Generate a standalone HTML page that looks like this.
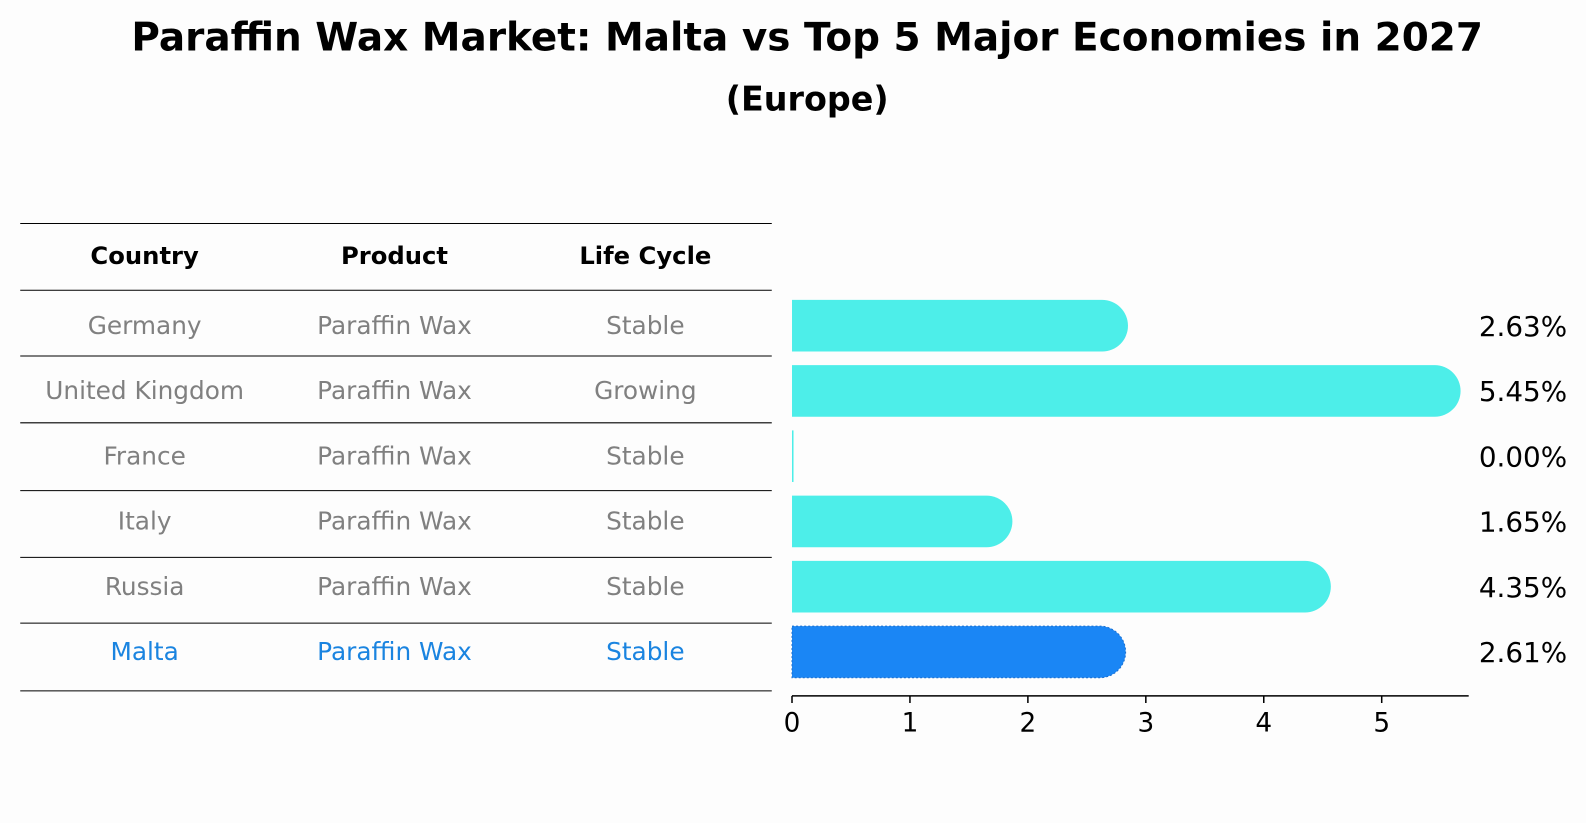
<!DOCTYPE html>
<html><head><meta charset="utf-8"><style>
body{margin:0;background:#fdfdfd;font-family:"DejaVu Sans","Liberation Sans",sans-serif;}
svg{display:block}
</style></head><body>
<svg width="1586" height="823" viewBox="0 0 1586 823">
<g transform="scale(1.0115)">
<text x="798" y="50" text-anchor="middle" font-size="38.5" font-weight="bold">Paraffin Wax Market: Malta vs Top 5 Major Economies in 2027</text>
<text x="798" y="109" text-anchor="middle" font-size="33" font-weight="bold">(Europe)</text>
<g id="table"></g>
<g id="bars"></g>
</g>
</svg>
<script>
const countries=["Germany","United Kingdom","France","Italy","Russia","Malta"];
const products=["Paraffin Wax","Paraffin Wax","Paraffin Wax","Paraffin Wax","Paraffin Wax","Paraffin Wax"];
const lifeCycles=["Stable","Growing","Stable","Stable","Stable","Stable"];
const values=[2.63,5.45,0.00,1.65,4.35,2.61];
const ticks=[0,1,2,3,4,5];
const NS="http://www.w3.org/2000/svg";
function mk(tag,attrs,parent){const e=document.createElementNS(NS,tag);for(const k in attrs)e.setAttribute(k,attrs[k]);parent.appendChild(e);return e;}
const tbl=document.getElementById('table');
const lineYs=[221,287,352,418,485,551,616,683];
const colX=[143,390,638];
lineYs.forEach(y=>{const l=mk('line',{x1:20,x2:763,y1:y,y2:y,stroke:'#000','stroke-width':1},tbl);

});
["Country","Product","Life Cycle"].forEach((h,i)=>{const t=mk('text',{x:colX[i],y:261,'text-anchor':'middle','font-size':24,'font-weight':'bold'},tbl);t.textContent=h;

});
function rowY(i){return 322+i*64.5;}
countries.forEach((c,i)=>{const isM=c==="Malta";const col=isM?'#1a84e0':'#808080';
[c,products[i],lifeCycles[i]].forEach((v,j)=>{const t=mk('text',{x:colX[j],y:rowY(i)+8,'text-anchor':'middle','font-size':24.5,fill:col},tbl);t.textContent=v;

});});
const g=document.getElementById('bars');
const x0=783,unit=116.6;
function xs(v){return x0+v*unit;}
const bh=51,r=25.5;
values.forEach((v,i)=>{const cy=rowY(i);const isM=countries[i]==="Malta";const fill=isM?'#1a86f5':'#4deee9';
const xe=xs(v);
let d;
if(v<=0){d=`M${x0} ${cy-bh/2}h1.5v${bh}h-1.5z`;}
else d=`M${x0} ${cy-bh/2}H${xe}A${r} ${r} 0 0 1 ${xe} ${cy+bh/2}H${x0}Z`;
const p=mk('path',{d:d,fill:fill},g);
if(isM){p.setAttribute('stroke','#1a6fd0');p.setAttribute('stroke-dasharray','2 2');p.setAttribute('stroke-width','1');}


const t=mk('text',{x:1462,y:cy+10,'font-size':27.5},g);t.textContent=v.toFixed(2)+'%';

});
const ax=mk('line',{x1:x0,x2:1452,y1:688,y2:688,stroke:'#000','stroke-width':1.5},g);


ticks.forEach(tv=>{const tk=mk('line',{x1:xs(tv),x2:xs(tv),y1:688,y2:695,stroke:'#000','stroke-width':1.5},g);


const t=mk('text',{x:xs(tv),y:723,'text-anchor':'middle','font-size':26},g);t.textContent=tv;

});
</script>
</body></html>
